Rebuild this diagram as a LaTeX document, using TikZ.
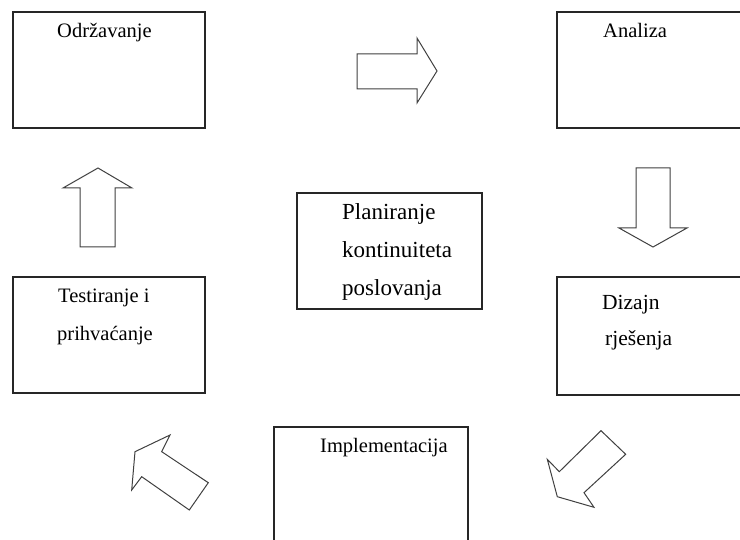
\documentclass[tikz,border=0pt]{standalone}
\usepackage{fontspec}
\setmainfont{Liberation Serif}
\begin{document}
\begin{tikzpicture}[x=1pt,y=-1pt,
  box/.style={draw=black!85,line width=1.1pt,fill=white,inner sep=0pt},
  blk/.style={draw=black!75,line width=1pt,line join=miter,fill=white},
  lbl/.style={anchor=base west,inner sep=0pt,font=\fontsize{20.5}{24}\selectfont},
  clbl/.style={anchor=base west,inner sep=0pt,font=\fontsize{23}{27}\selectfont},
  dlbl/.style={anchor=base west,inner sep=0pt,font=\fontsize{21.5}{25}\selectfont}]
\useasboundingbox (0,0) rectangle (740,540);
\clip (0,0) rectangle (740,540);
% boxes
\node[box,minimum width=192pt,minimum height=116pt] (odrz) at (109,70) {};
\node[box,minimum width=203pt,minimum height=116pt] (anal) at (658.5,70) {};
\node[box,minimum width=185pt,minimum height=116pt] (plan) at (389.5,251) {};
\node[box,minimum width=203pt,minimum height=118pt] (diz) at (658.5,336) {};
\node[box,minimum width=192pt,minimum height=116pt] (test) at (109,335) {};
\node[box,minimum width=194pt,minimum height=133pt] (impl) at (371,493.5) {};
% labels
\node[lbl] (t1) at (57,38) {Održavanje};
\node[lbl] (t2) at (603,38) {Analiza};
\node[clbl] (t3a) at (342,220) {Planiranje};
\node[clbl] (t3b) at (342,258) {kontinuiteta};
\node[clbl] (t3c) at (342,296) {poslovanja};
\node[dlbl] (t4a) at (602,310) {Dizajn};
\node[dlbl] (t4b) at (605,346) {rješenja};
\node[lbl] (t5a) at (58,303) {Testiranje i};
\node[lbl] (t5b) at (57,341) {prihvaćanje};
\node[lbl] (t6) at (320,453) {Implementacija};
% block arrows
\draw[blk] (357,54) -- (417,54) -- (417,38) -- (437,71) -- (417,103) -- (417,89) -- (357,89) -- cycle;
\draw[blk] (636,168) -- (670,168) -- (670,228) -- (687,228) -- (653,247) -- (619,228) -- (636,228) -- cycle;
\draw[blk] (80,247) -- (80,188) -- (63,188) -- (98,168) -- (132,188) -- (115,188) -- (115,247) -- cycle;
\draw[blk] (170,435) -- (161.7,451.7) -- (208.3,482.7) -- (189.3,510) -- (141.7,476.7) -- (131.7,490) -- (135,451.7) -- cycle;
\draw[blk] (601,430.7) -- (625.7,454.3) -- (584,492.7) -- (594,507.3) -- (557.3,496.7) -- (547.3,459.3) -- (559.3,471.7) -- cycle;
\end{tikzpicture}
\end{document}
